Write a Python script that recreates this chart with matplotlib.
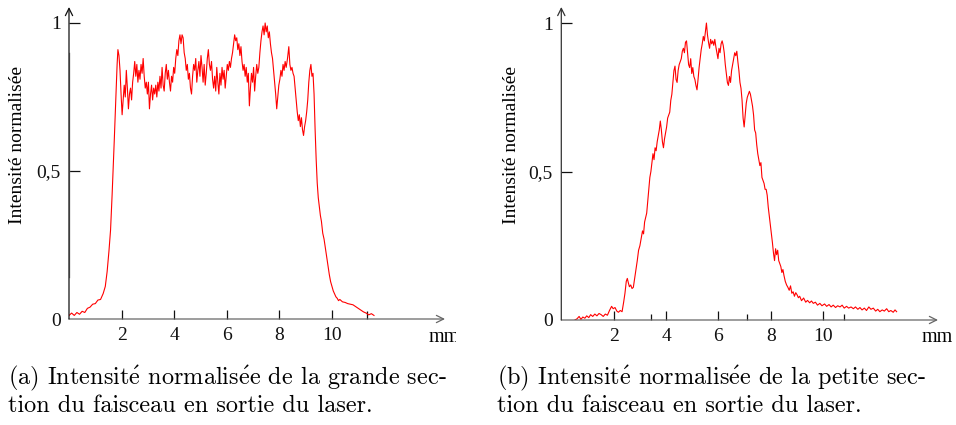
import matplotlib
matplotlib.use("Agg")
import matplotlib.pyplot as plt
from matplotlib.patches import Rectangle

plt.rcParams['mathtext.fontset'] = 'cm'

# grande section (a)
x_a = [0.00, 0.10, 0.20, 0.30, 0.40, 0.50, 0.60, 0.70, 0.80, 0.90, 1.00, 1.10, 1.20, 1.30, 1.38,
       1.45, 1.52, 1.58, 1.64, 1.68, 1.72, 1.76, 1.80, 1.83, 1.86, 1.90, 1.94, 1.98, 2.02, 2.06,
       2.10, 2.14, 2.18, 2.22, 2.26, 2.30, 2.34, 2.38, 2.42, 2.46, 2.50, 2.54, 2.58, 2.62, 2.66,
       2.70, 2.74, 2.78, 2.82, 2.86, 2.90, 2.94, 2.98, 3.02, 3.06, 3.10, 3.14, 3.18, 3.22, 3.26,
       3.30, 3.34, 3.38, 3.42, 3.46, 3.50, 3.54, 3.58, 3.62, 3.66, 3.70, 3.74, 3.78, 3.82, 3.86,
       3.90, 3.94, 3.98, 4.02, 4.06, 4.10, 4.14, 4.18, 4.22, 4.26, 4.30, 4.34, 4.38, 4.42, 4.46,
       4.50, 4.54, 4.58, 4.62, 4.66, 4.70, 4.74, 4.78, 4.82, 4.86, 4.90, 4.94, 4.98, 5.02, 5.06,
       5.10, 5.14, 5.18, 5.22, 5.26, 5.30, 5.34, 5.38, 5.42, 5.46, 5.50, 5.54, 5.58, 5.62, 5.66,
       5.70, 5.74, 5.78, 5.82, 5.86, 5.90, 5.94, 5.98, 6.02, 6.06, 6.10, 6.14, 6.18, 6.22, 6.26,
       6.30, 6.34, 6.38, 6.42, 6.46, 6.50, 6.54, 6.58, 6.62, 6.66, 6.70, 6.74, 6.78, 6.82, 6.86,
       6.90, 6.94, 6.98, 7.02, 7.06, 7.10, 7.14, 7.18, 7.22, 7.26, 7.30, 7.34, 7.38, 7.42, 7.46,
       7.50, 7.54, 7.58, 7.62, 7.66, 7.70, 7.74, 7.78, 7.82, 7.86, 7.90, 7.94, 7.98, 8.02, 8.06,
       8.10, 8.14, 8.18, 8.22, 8.26, 8.31, 8.36, 8.40, 8.44, 8.48, 8.52, 8.56, 8.60, 8.64, 8.68,
       8.72, 8.76, 8.80, 8.84, 8.88, 8.92, 8.96, 9.00, 9.04, 9.08, 9.12, 9.16, 9.20, 9.24, 9.28,
       9.32, 9.36, 9.40, 9.44, 9.48, 9.52, 9.56, 9.60, 9.65, 9.70, 9.75, 9.80, 9.85, 9.90, 9.95,
       10.00, 10.05, 10.10, 10.15, 10.20, 10.25, 10.30, 10.40, 10.50, 10.60, 10.70, 10.80, 10.90,
       11.00, 11.10, 11.20, 11.30, 11.40, 11.50, 11.60]
y_a = [0.012, 0.020, 0.012, 0.022, 0.016, 0.026, 0.022, 0.036, 0.040, 0.050, 0.052, 0.064, 0.066, 0.086, 0.110,
       0.160, 0.230, 0.300, 0.420, 0.510, 0.600, 0.700, 0.790, 0.860, 0.910, 0.890, 0.840, 0.760, 0.690, 0.740,
       0.790, 0.750, 0.840, 0.780, 0.710, 0.760, 0.780, 0.740, 0.800, 0.830, 0.870, 0.820, 0.860, 0.800, 0.840,
       0.810, 0.860, 0.830, 0.880, 0.820, 0.780, 0.800, 0.760, 0.800, 0.710, 0.760, 0.790, 0.740, 0.780, 0.760,
       0.790, 0.750, 0.800, 0.770, 0.820, 0.780, 0.850, 0.790, 0.770, 0.830, 0.860, 0.810, 0.840, 0.800, 0.770,
       0.820, 0.800, 0.850, 0.830, 0.880, 0.910, 0.890, 0.940, 0.960, 0.930, 0.960, 0.950, 0.900, 0.880, 0.840,
       0.860, 0.810, 0.830, 0.780, 0.760, 0.820, 0.860, 0.840, 0.880, 0.800, 0.840, 0.870, 0.820, 0.890, 0.850,
       0.800, 0.860, 0.790, 0.830, 0.880, 0.910, 0.860, 0.840, 0.870, 0.810, 0.780, 0.820, 0.770, 0.850, 0.800,
       0.760, 0.830, 0.790, 0.850, 0.810, 0.840, 0.780, 0.820, 0.860, 0.840, 0.870, 0.850, 0.880, 0.900, 0.930,
       0.960, 0.940, 0.950, 0.910, 0.930, 0.890, 0.920, 0.870, 0.840, 0.860, 0.820, 0.850, 0.800, 0.830, 0.720,
       0.780, 0.830, 0.800, 0.850, 0.770, 0.820, 0.860, 0.830, 0.850, 0.900, 0.940, 0.970, 0.990, 0.960, 1.000,
       0.970, 0.990, 0.950, 0.970, 0.930, 0.900, 0.880, 0.840, 0.800, 0.760, 0.710, 0.750, 0.790, 0.810, 0.840,
       0.820, 0.860, 0.840, 0.870, 0.850, 0.880, 0.920, 0.860, 0.840, 0.850, 0.830, 0.820, 0.780, 0.740, 0.700,
       0.670, 0.690, 0.650, 0.680, 0.640, 0.620, 0.650, 0.670, 0.700, 0.740, 0.800, 0.840, 0.860, 0.820, 0.830,
       0.760, 0.640, 0.540, 0.460, 0.410, 0.380, 0.350, 0.330, 0.290, 0.270, 0.240, 0.210, 0.180, 0.150, 0.126,
       0.110, 0.095, 0.085, 0.075, 0.070, 0.062, 0.066, 0.058, 0.056, 0.052, 0.050, 0.048, 0.042,
       0.036, 0.030, 0.024, 0.020, 0.014, 0.018, 0.012]

# petite section (b)
x_b = [0.52, 0.60, 0.68, 0.75, 0.82, 0.90, 0.97, 1.05, 1.12, 1.20, 1.28, 1.36, 1.44, 1.52, 1.60,
       1.68, 1.76, 1.84, 1.92, 1.98, 2.05, 2.12, 2.18, 2.25, 2.32, 2.38, 2.43, 2.48, 2.52, 2.56,
       2.60, 2.65, 2.70, 2.75, 2.80, 2.85, 2.90, 2.95, 3.00, 3.05, 3.10, 3.14, 3.18, 3.22, 3.26,
       3.30, 3.34, 3.38, 3.42, 3.46, 3.50, 3.54, 3.58, 3.62, 3.66, 3.70, 3.74, 3.78, 3.82, 3.86,
       3.90, 3.94, 3.98, 4.02, 4.06, 4.10, 4.14, 4.18, 4.22, 4.26, 4.30, 4.34, 4.38, 4.42, 4.46,
       4.50, 4.54, 4.58, 4.62, 4.66, 4.70, 4.74, 4.78, 4.82, 4.86, 4.90, 4.94, 4.98, 5.02, 5.06,
       5.10, 5.14, 5.18, 5.22, 5.26, 5.30, 5.34, 5.38, 5.42, 5.46, 5.50, 5.54, 5.58, 5.62, 5.66,
       5.70, 5.74, 5.78, 5.82, 5.86, 5.90, 5.94, 5.98, 6.02, 6.06, 6.10, 6.14, 6.18, 6.22, 6.26,
       6.30, 6.34, 6.38, 6.42, 6.46, 6.50, 6.54, 6.58, 6.62, 6.66, 6.70, 6.74, 6.78, 6.82, 6.86,
       6.90, 6.94, 6.98, 7.02, 7.06, 7.10, 7.14, 7.18, 7.22, 7.26, 7.30, 7.34, 7.38, 7.42, 7.46,
       7.50, 7.54, 7.58, 7.62, 7.66, 7.70, 7.74, 7.78, 7.82, 7.86, 7.90, 7.94, 7.98, 8.02, 8.06,
       8.10, 8.14, 8.18, 8.22, 8.26, 8.30, 8.34, 8.38, 8.42, 8.46, 8.50, 8.55, 8.60, 8.65, 8.70,
       8.75, 8.80, 8.85, 8.90, 8.95, 9.00, 9.05, 9.10, 9.17, 9.25, 9.33, 9.40, 9.48, 9.55, 9.62,
       9.70, 9.78, 9.87, 9.95, 10.05, 10.13, 10.22, 10.30, 10.38, 10.47, 10.55, 10.64, 10.72, 10.80, 10.89,
       10.97, 11.06, 11.15, 11.23, 11.32, 11.40, 11.48, 11.57, 11.65, 11.74, 11.82, 11.91, 12.00, 12.08, 12.16,
       12.25, 12.33, 12.42, 12.50, 12.58, 12.67, 12.74, 12.80]
y_b = [0.000, 0.004, 0.012, 0.002, 0.010, 0.006, 0.014, 0.008, 0.018, 0.012, 0.020, 0.014, 0.022, 0.018, 0.012,
       0.020, 0.016, 0.032, 0.046, 0.038, 0.042, 0.030, 0.026, 0.032, 0.028, 0.060, 0.090, 0.130, 0.140, 0.125,
       0.112, 0.118, 0.106, 0.110, 0.140, 0.170, 0.200, 0.235, 0.250, 0.275, 0.300, 0.290, 0.330, 0.345, 0.360,
       0.400, 0.440, 0.480, 0.500, 0.530, 0.560, 0.540, 0.580, 0.570, 0.600, 0.620, 0.640, 0.670, 0.640, 0.600,
       0.580, 0.610, 0.630, 0.650, 0.680, 0.690, 0.700, 0.740, 0.760, 0.800, 0.840, 0.855, 0.810, 0.800, 0.840,
       0.860, 0.870, 0.880, 0.905, 0.915, 0.900, 0.935, 0.940, 0.900, 0.860, 0.850, 0.880, 0.830, 0.850, 0.820,
       0.810, 0.790, 0.775, 0.810, 0.850, 0.880, 0.910, 0.930, 0.955, 0.940, 0.970, 1.000, 0.960, 0.935, 0.915,
       0.945, 0.930, 0.940, 0.925, 0.945, 0.920, 0.900, 0.880, 0.915, 0.900, 0.930, 0.940, 0.925, 0.900, 0.860,
       0.830, 0.800, 0.790, 0.820, 0.800, 0.840, 0.860, 0.880, 0.900, 0.890, 0.905, 0.870, 0.840, 0.800, 0.780,
       0.740, 0.680, 0.650, 0.690, 0.730, 0.750, 0.760, 0.770, 0.760, 0.740, 0.720, 0.690, 0.640, 0.630, 0.590,
       0.560, 0.540, 0.520, 0.530, 0.480, 0.470, 0.460, 0.440, 0.440, 0.420, 0.380, 0.350, 0.320, 0.290, 0.260,
       0.225, 0.200, 0.240, 0.220, 0.235, 0.200, 0.190, 0.180, 0.160, 0.170, 0.150, 0.130, 0.118, 0.110, 0.100,
       0.115, 0.090, 0.095, 0.080, 0.092, 0.085, 0.075, 0.080, 0.065, 0.074, 0.060, 0.066, 0.058, 0.064, 0.056,
       0.060, 0.050, 0.056, 0.048, 0.054, 0.046, 0.052, 0.044, 0.050, 0.042, 0.048, 0.044, 0.050, 0.040, 0.046,
       0.040, 0.044, 0.038, 0.044, 0.036, 0.042, 0.034, 0.040, 0.032, 0.044, 0.036, 0.040, 0.030, 0.036, 0.028,
       0.034, 0.030, 0.038, 0.028, 0.032, 0.026, 0.034, 0.028]

x_major = [2, 4, 6, 8, 10]
y_major = [0.5, 1]
y_labels = ['0', '0,5', '1']
minor_a = [11.32]
minor_b = [3.41, 7.10, 10.80]

serif = 'Liberation Serif'
W, H = 956, 425

fig = plt.figure(figsize=(W / 100, H / 100), dpi=100)
ax_a = fig.add_axes([69 / W, 1 - 319 / H, 376 / W, 312 / H])
ax_b = fig.add_axes([561.3 / W, 1 - 320 / H, 376.7 / W, 313 / H])


def style_axes(ax, xmax, ymax, minors, minor_len, ycol):
    ax.set_xlim(0, xmax)
    ax.set_ylim(0, ymax)
    for s in ax.spines.values():
        s.set_visible(False)
    # axes with open arrow heads
    ax.annotate('', xy=(1, 0), xytext=(0, 0), xycoords='axes fraction',
                arrowprops=dict(arrowstyle='->', lw=0.9, color='#666666',
                                mutation_scale=13, shrinkA=0, shrinkB=0))
    ax.annotate('', xy=(0, 1), xytext=(0, 0), xycoords='axes fraction',
                arrowprops=dict(arrowstyle='->', lw=0.9, color=ycol,
                                mutation_scale=13, shrinkA=0, shrinkB=0))
    ax.set_xticks(x_major)
    ax.set_xticklabels([str(v) for v in x_major], fontfamily=serif, fontsize=14)
    ax.set_xticks(minors, minor=True)
    ax.set_yticks([0] + y_major)
    ax.set_yticklabels(y_labels, fontfamily=serif, fontsize=14)
    ax.tick_params(axis='x', which='major', direction='in', length=6.5, width=0.9,
                   pad=6, colors='#111111')
    ax.tick_params(axis='x', which='minor', direction='in', length=minor_len, width=0.9,
                   colors='#111111')
    ax.tick_params(axis='y', direction='in', length=8, width=0.9, pad=6, colors='#111111')
    ax.yaxis.get_major_ticks()[0].tick1line.set_visible(False)
    ax.patch.set_alpha(0)


style_axes(ax_a, 14.3, 1.054, minor_a, 6, '#111111')
style_axes(ax_b, 14.38, 1.054, minor_b, 4, '#333333')
# lighter middle stretch of the left y axis, as in the scan
ax_a.axvline(0, ymin=0.135, ymax=0.853, color='#8a8a8a', lw=1.0)

ax_a.plot(x_a, y_a, color='#ff0000', lw=0.8)
ax_b.plot(x_b, y_b, color='#ff0000', lw=0.8)

for xc in (18, 512):
    fig.text(xc / W, 1 - 145 / H, 'Intensité normalisée', rotation=90, ha='center',
             va='center', fontfamily=serif, fontsize=14)

t_mm = fig.text(429 / W, 1 - 338 / H, 'mm', ha='left', va='center',
                fontfamily=serif, fontsize=14.5, clip_on=True)
t_mm.set_clip_path(Rectangle((0, 0), 456 / W, 1, transform=fig.transFigure))
fig.text(922 / W, 1 - 338 / H, 'mm', ha='left', va='center', fontfamily=serif, fontsize=14.5)

acc = r'$\mathrm{\acute{e}}$'
cap = dict(fontfamily='cmr10', fontsize=17.5, ha='left', va='baseline')
fig.text(8 / W, 1 - 384 / H, '(a) Intensit' + acc + ' normalis' + acc + 'e de la grande sec-', **cap)
fig.text(8 / W, 1 - 412 / H, 'tion du faisceau en sortie du laser.', **cap)
fig.text(497 / W, 1 - 384 / H, '(b) Intensit' + acc + ' normalis' + acc + 'e de la petite sec-', **cap)
fig.text(497 / W, 1 - 412 / H, 'tion du faisceau en sortie du laser.', **cap)

fig.savefig('out.png', dpi=100)
